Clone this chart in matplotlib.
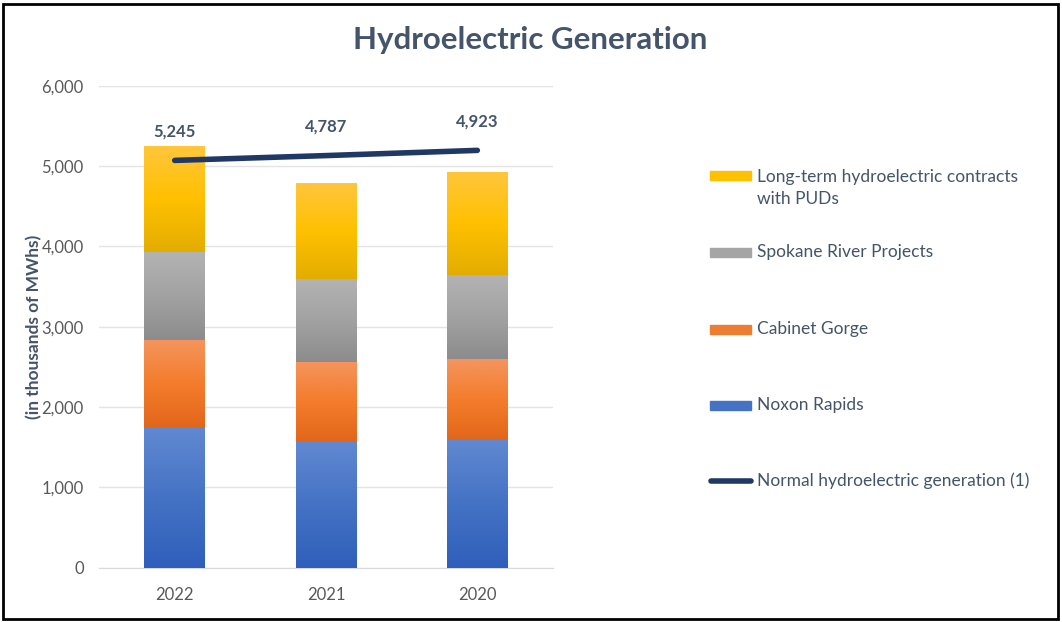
import numpy as np
import matplotlib
matplotlib.use("Agg")
import matplotlib.pyplot as plt
from matplotlib.colors import LinearSegmentedColormap
from matplotlib.patches import Rectangle
from matplotlib.lines import Line2D

# ---- data ----
years = ["2022", "2021", "2020"]
noxon = [1740, 1560, 1595]
cabinet = [1100, 1005, 1005]
spokane = [1090, 1030, 1045]
puds = [1315, 1192, 1278]
totals = [5245, 4787, 4923]
normal = [5070, 5130, 5195]
series_names = ["Noxon Rapids", "Cabinet Gorge", "Spokane River Projects",
                "Long-term hydroelectric contracts\nwith PUDs"]
line_name = "Normal hydroelectric generation (1)"
yticks = [0, 1000, 2000, 3000, 4000, 5000, 6000]

FONT = "Lato"
plt.rcParams['font.family'] = [FONT, 'DejaVu Sans']
TXT = "#44546A"
TICK = "#595959"

gradients = [
    ["#6189D2", "#4472C4", "#2F5FBB"],   # blue
    ["#F4955E", "#F47C2C", "#E2661A"],   # orange
    ["#B3B3B3", "#A2A2A2", "#8C8C8C"],   # gray
    ["#FFC63C", "#FFC000", "#E3AD00"],   # gold
]
legend_colors = ["#4472C4", "#ED7D31", "#A5A5A5", "#FFC000"]

fig = plt.figure(figsize=(10.62, 6.22), dpi=100)
ax = fig.add_axes([99/1062, 1-567.7/622, 454/1062, 482/622])

x = np.arange(len(years))
bottom = np.zeros(len(years))
layers = [noxon, cabinet, spokane, puds]
for vals, grad, name in zip(layers, gradients, series_names):
    bars = ax.bar(x, vals, width=0.4, bottom=bottom, color=grad[1],
                  edgecolor="none", label=name, zorder=2)
    cmap = LinearSegmentedColormap.from_list("g", grad[::-1])
    for b in bars:
        x0, y0, w, h = b.get_x(), b.get_y(), b.get_width(), b.get_height()
        grad_img = np.linspace(0, 1, 256).reshape(-1, 1)
        im = ax.imshow(grad_img, cmap=cmap, origin="lower", aspect="auto",
                       extent=[x0, x0 + w, y0, y0 + h], zorder=3)
        im.set_clip_path(b)
    bottom += np.array(vals)

ax.plot(x, normal, color="#203864", lw=4, solid_capstyle="round", zorder=5,
        label=line_name)
for xi, ni, t in zip(x, normal, totals):
    ax.annotate(f"{t:,}", (xi, ni), xytext=(0, 21), textcoords="offset points",
                ha="center", va="center", fontsize=12, fontweight="bold",
                color=TXT, zorder=6)

ax.set_xlim(-0.5, len(years) - 0.5)
ax.set_ylim(0, 6000)
ax.set_yticks(yticks)
ax.set_yticklabels([f"{v:,}" for v in yticks])
ax.set_xticks(x)
ax.set_xticklabels(years)
ax.tick_params(axis="both", length=0, labelsize=12, labelcolor=TICK)
ax.tick_params(axis="y", pad=11)
ax.tick_params(axis="x", pad=14)
ax.grid(axis="y", color="#E4E4E4", lw=1, zorder=0)
ax.set_axisbelow(True)
for s in ["top", "right", "left"]:
    ax.spines[s].set_visible(False)
ax.spines["bottom"].set_color("#D9D9D9")

fig.text(34/1062, 1-327/622, "(in thousands of MWhs)", rotation=90,
         ha="center", va="center", fontsize=12.5, fontweight="bold", color=TXT)
fig.text(530/1062, 1-40/622, "Hydroelectric Generation", ha="center",
         va="center", fontsize=22.5, fontweight="bold", color=TXT)

# ---- legend (manual) ----
leg_entries = [(series_names[3], legend_colors[3], 176, 188),
               (series_names[2], legend_colors[2], 252, 252),
               (series_names[1], legend_colors[1], 329, 329),
               (series_names[0], legend_colors[0], 405, 405)]
for name, col, yc, yt in leg_entries:
    fig.add_artist(Rectangle((710/1062, 1-(yc+4.5)/622), 41/1062, 9/622,
                             transform=fig.transFigure, color=col))
    fig.text(757/1062, 1-yt/622, name, ha="left", va="center",
             fontsize=12.5, color=TXT, linespacing=1.4)
fig.add_artist(Line2D([711/1062, 751/1062], [1-481/622, 1-481/622],
                      transform=fig.transFigure, color="#203864", lw=4,
                      solid_capstyle="round"))
fig.text(757/1062, 1-481/622, line_name, ha="left", va="center",
         fontsize=12.5, color=TXT)

fig.add_artist(Rectangle((3/1062, 3/622), 1055/1062, 615/622, transform=fig.transFigure,
                         fill=False, edgecolor="black", lw=2))

fig.savefig("out.png", dpi=100)
